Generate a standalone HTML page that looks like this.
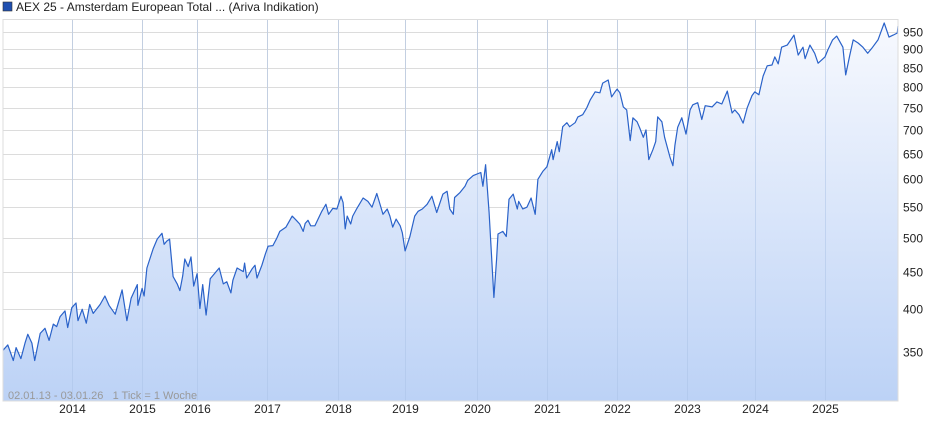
<!DOCTYPE html>
<html><head><meta charset="utf-8"><style>
body{margin:0;background:#fff;width:940px;height:435px;overflow:hidden;font-family:"Liberation Sans",sans-serif}
svg{display:block}
</style></head><body>
<svg id="chart" width="940" height="435" xmlns="http://www.w3.org/2000/svg">
<defs><linearGradient id="fillg" x1="0" y1="0" x2="0" y2="1"><stop offset="0" stop-color="#f7f9fe"/><stop offset="1" stop-color="#bcd2f6"/></linearGradient></defs>
<rect x="3" y="2" width="9" height="9" fill="#1f4fb0" stroke="#333" stroke-width="0.6"/>
<text x="16" y="11" font-size="12" fill="#222">AEX 25 - Amsterdam European Total ... (Ariva Indikation)</text>
<g id="grid"></g>
<g id="series"></g>
<rect x="3" y="19.5" width="895" height="381.5" fill="none" stroke="#ddd"/>
<text x="8" y="399" font-size="11" fill="#999" xml:space="preserve" style="white-space:pre">02.01.13 - 03.01.26   1 Tick = 1 Woche</text>
<g id="axes"></g>
</svg>
<script>
const times=[2013.00,2013.07,2013.15,2013.19,2013.26,2013.32,2013.36,2013.42,2013.46,2013.54,2013.61,2013.67,2013.73,2013.78,2013.83,2013.90,2013.94,2014.00,2014.06,2014.09,2014.15,2014.21,2014.26,2014.31,2014.41,2014.48,2014.54,2014.63,2014.73,2014.80,2014.86,2014.95,2014.96,2015.02,2015.05,2015.09,2015.18,2015.24,2015.31,2015.34,2015.38,2015.42,2015.47,2015.53,2015.57,2015.61,2015.64,2015.69,2015.73,2015.77,2015.82,2015.86,2015.90,2015.95,2016.01,2016.14,2016.20,2016.25,2016.31,2016.34,2016.40,2016.49,2016.51,2016.54,2016.62,2016.66,2016.69,2016.76,2016.81,2016.85,2016.92,2016.98,2017.02,2017.11,2017.20,2017.26,2017.31,2017.36,2017.39,2017.43,2017.47,2017.53,2017.63,2017.69,2017.73,2017.79,2017.85,2017.91,2017.94,2017.97,2018.00,2018.05,2018.08,2018.14,2018.23,2018.30,2018.36,2018.43,2018.52,2018.58,2018.62,2018.66,2018.71,2018.77,2018.80,2018.84,2018.91,2018.98,2019.03,2019.09,2019.16,2019.23,2019.30,2019.39,2019.45,2019.49,2019.54,2019.56,2019.64,2019.71,2019.75,2019.83,2019.94,2019.97,2020.01,2020.06,2020.13,2020.17,2020.19,2020.26,2020.31,2020.35,2020.41,2020.47,2020.49,2020.55,2020.61,2020.67,2020.73,2020.77,2020.84,2020.90,2020.97,2020.99,2021.05,2021.08,2021.13,2021.19,2021.23,2021.31,2021.35,2021.42,2021.48,2021.53,2021.60,2021.67,2021.71,2021.79,2021.84,2021.89,2021.92,2021.96,2022.01,2022.06,2022.11,2022.15,2022.21,2022.25,2022.30,2022.34,2022.38,2022.44,2022.48,2022.51,2022.57,2022.61,2022.69,2022.73,2022.76,2022.80,2022.86,2022.92,2022.98,2023.02,2023.09,2023.15,2023.20,2023.30,2023.37,2023.44,2023.52,2023.59,2023.63,2023.69,2023.75,2023.81,2023.88,2023.92,2023.98,2024.04,2024.10,2024.17,2024.21,2024.26,2024.31,2024.39,2024.46,2024.49,2024.55,2024.62,2024.65,2024.72,2024.79,2024.84,2024.94,2024.98,2025.05,2025.11,2025.20,2025.24,2025.30,2025.35,2025.42,2025.49,2025.56,2025.62,2025.71,2025.80,2025.87,2025.93,2025.99,2026.00];
const values=[352,358,341,355,343,360,370,360,341,371,377,363,382,379,391,398,378,402,408,386,400,383,406,395,406,417,405,394,425,386,414,432,405,427,417,455,483,498,507,490,495,498,443,433,424,444,468,457,471,430,447,401,432,393,440,455,433,436,421,438,455,450,462,441,454,459,441,459,475,487,488,500,510,517,535,528,522,510,523,528,519,519,543,555,538,548,547,569,558,514,535,522,535,548,566,560,550,574,538,547,535,517,530,519,508,480,502,535,543,547,555,569,541,573,578,547,538,567,576,587,598,607,613,587,628,541,415,468,506,510,502,564,573,547,560,547,550,566,538,600,615,624,658,638,675,654,707,716,707,716,729,734,750,769,788,786,810,818,776,788,795,786,752,745,677,727,718,704,684,700,638,658,675,729,718,684,642,626,667,706,727,691,745,757,762,723,755,752,764,759,790,738,745,734,715,750,779,788,781,828,855,857,879,860,906,912,932,941,884,906,874,912,889,862,879,898,927,938,906,831,884,927,918,906,889,903,927,977,935,941,947,968];
const yTicks=[350,400,450,500,550,600,650,700,750,800,850,900,950];
const yearLabels=["2014","2015","2016","2017","2018","2019","2020","2021","2022","2023","2024","2025"];
const yearTickTimes=[2014.00,2015.02,2015.82,2016.83,2017.87,2018.84,2019.88,2020.90,2021.92,2022.93,2023.92,2024.94];

const NS="http://www.w3.org/2000/svg";
const X0=3,X1=898,T0=2013.0,T1=2026.0,YB=401;
function xs(t){return X0+(t-T0)/(T1-T0)*(X1-X0);}
function ys(v){return 32+Math.log(950/v)*320.6;}
function mk(tag,attrs,parent){const e=document.createElementNS(NS,tag);for(const k in attrs)e.setAttribute(k,attrs[k]);parent.appendChild(e);return e;}
const grid=document.getElementById('grid'),axes=document.getElementById('axes'),series=document.getElementById('series');
yTicks.forEach(v=>{
  const y=Math.round(ys(v))+0.5;
  const l=mk('line',{x1:X0,x2:X1,y1:y,y2:y,stroke:'#dcdcdc','stroke-width':1},grid);
  
  
  const t=mk('text',{x:903,y:y+4,'font-size':12,fill:'#222'},axes);
  t.textContent=v;
  
  
});
yearTickTimes.forEach((tt,i)=>{
  const x=Math.round(xs(tt))+0.5;
  const l=mk('line',{x1:x,x2:x,y1:20,y2:YB,stroke:'#dcdcdc','stroke-width':1},grid);
  
  
  const t=mk('text',{x:x,y:413,'font-size':12,fill:'#222','text-anchor':'middle'},axes);
  t.textContent=yearLabels[i];
  
  
});
let d='';
times.forEach((t,i)=>{d+=(i?'L':'M')+xs(t).toFixed(1)+','+ys(values[i]).toFixed(1);});
const area=mk('path',{d:d+'L'+xs(times[times.length-1]).toFixed(1)+','+YB+'L'+xs(times[0]).toFixed(1)+','+YB+'Z',fill:'url(#fillg)',stroke:'none'},series);


yearTickTimes.forEach(tt=>{
  const x=Math.round(xs(tt))+0.5;
  const l=mk('line',{x1:x,x2:x,y1:20,y2:YB,stroke:'#a9c1e6','stroke-width':1,'stroke-opacity':0.5},series);
  
  
});
const line=mk('path',{d:d,fill:'none',stroke:'#2a62c9','stroke-width':1.2,'stroke-linejoin':'round'},series);


</script>
</body></html>
